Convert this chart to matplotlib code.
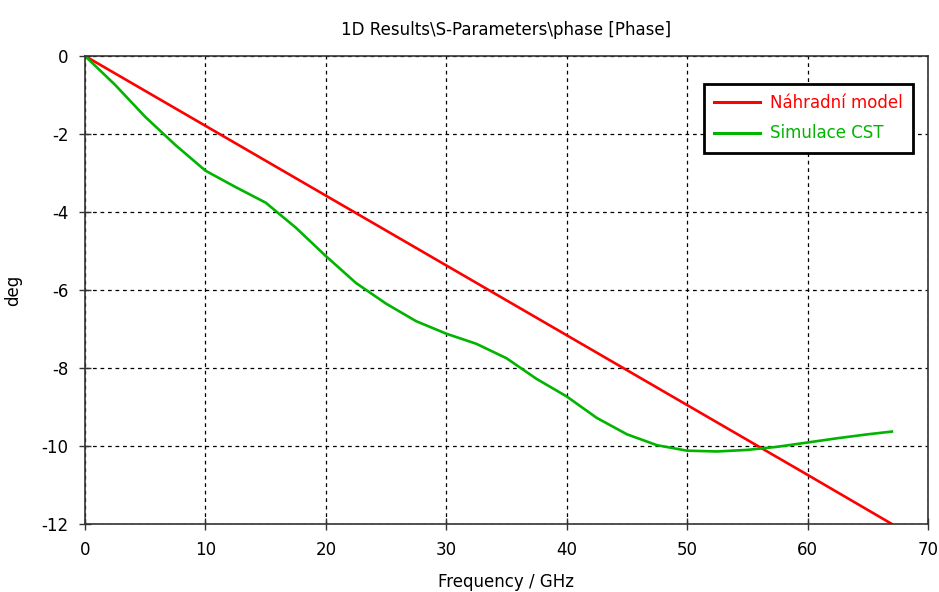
import matplotlib
matplotlib.use("Agg")
import matplotlib.pyplot as plt

plt.rcParams['font.family'] = ['DejaVu Sans']
plt.rcParams['axes.unicode_minus'] = False

# Data
freq_model = [0, 10, 20, 30, 40, 50, 60, 67]
phase_model = [0, -1.79, -3.58, -5.37, -7.16, -8.95, -10.74, -12.0]

freq_cst = [0, 2.5, 5, 7.5, 10, 12.5, 15, 17.5, 20, 22.5, 25, 27.5, 30, 32.5,
            35, 37.5, 40, 42.5, 45, 47.5, 50, 52.5, 55, 57.5, 60, 62.5, 65, 67]
phase_cst = [0, -0.74, -1.56, -2.28, -2.94, -3.36, -3.76, -4.4, -5.13, -5.82,
             -6.35, -6.8, -7.12, -7.38, -7.75, -8.28, -8.73, -9.28, -9.7, -9.98,
             -10.12, -10.14, -10.1, -10.02, -9.91, -9.8, -9.7, -9.63]

labels = ["Náhradní model", "Simulace CST"]
colors = ["#ff0000", "#00b400"]

xticks = [0, 10, 20, 30, 40, 50, 60, 70]
yticks = [0, -2, -4, -6, -8, -10, -12]

fig = plt.figure(figsize=(9.39, 5.92), dpi=100)
ax = fig.add_axes([85/939, 1-524/592, (928-85)/939, (524-56)/592])

ax.plot(freq_model, phase_model, color=colors[0], lw=1.9, label=labels[0])
ax.plot(freq_cst, phase_cst, color=colors[1], lw=1.9, label=labels[1])

ax.set_xlim(0, 70)
ax.set_ylim(-12, 0)
ax.set_xticks(xticks)
ax.set_yticks(yticks)
ax.tick_params(direction='inout', length=8, width=1, labelsize=12, colors='#333333',
               labelcolor='black', pad=8)
ax.grid(True, color='black', linestyle=(0, (3, 3)), linewidth=0.9)
for s in ax.spines.values():
    s.set_color('#333333')
    s.set_linewidth(1.2)
    s.set_zorder(3)

ax.set_xlabel("Frequency / GHz", fontsize=12, labelpad=10)
ax.set_ylabel("deg", fontsize=12, labelpad=14)
ax.set_title(r"1D Results\S-Parameters\phase [Phase]", fontsize=12, pad=15)

leg = ax.legend(loc='upper right', bbox_to_anchor=(913/939, 1-84/592),
                bbox_transform=fig.transFigure, fontsize=12, fancybox=False,
                framealpha=1, edgecolor='black', handlelength=2.75,
                handletextpad=0.6, borderpad=0.6, labelspacing=0.75,
                borderaxespad=0)
leg.get_frame().set_linewidth(2)
for txt, c in zip(leg.get_texts(), colors):
    txt.set_color(c)
for line in leg.get_lines():
    line.set_linewidth(2.2)

fig.savefig("out.png", dpi=100)
